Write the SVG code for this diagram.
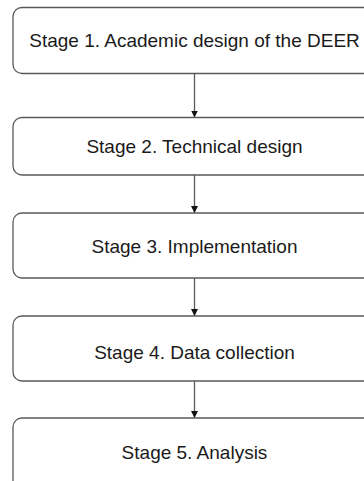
<svg xmlns="http://www.w3.org/2000/svg" width="364" height="481" viewBox="0 0 364 481">
<style>
.box{fill:#fff;stroke:#595959;stroke-width:1.3}
.lbl{font-family:"Liberation Sans",Arial,sans-serif;font-size:19px;fill:#1a1a1a;text-anchor:middle}
.conn{stroke:#595959;stroke-width:1.3;fill:none}
</style>
<defs>
<marker id="ah" viewBox="0 0 10 10" refX="10" refY="5" markerWidth="7" markerHeight="7" markerUnits="userSpaceOnUse" orient="auto">
<path d="M0,0 L10,5 L0,10 Z" fill="#111"/>
</marker>
</defs>
<rect width="364" height="481" fill="#fff"/>
<g id="connectors">
<line class="conn" x1="194.5" y1="73.5" x2="194.5" y2="117.5" marker-end="url(#ah)"/>
<line class="conn" x1="194.5" y1="175" x2="194.5" y2="213" marker-end="url(#ah)"/>
<line class="conn" x1="194.5" y1="278" x2="194.5" y2="316" marker-end="url(#ah)"/>
<line class="conn" x1="194.5" y1="381" x2="194.5" y2="418" marker-end="url(#ah)"/>
</g>
<g id="stage1"><rect class="box" x="13" y="7.5" width="363" height="66" rx="9"/><text class="lbl" x="194.5" y="47">Stage 1. Academic design of the DEER</text></g>
<g id="stage2"><rect class="box" x="13" y="117.5" width="363" height="57.5" rx="9"/><text class="lbl" x="194.5" y="153">Stage 2. Technical design</text></g>
<g id="stage3"><rect class="box" x="13" y="213" width="363" height="65" rx="9"/><text class="lbl" x="194.5" y="253">Stage 3. Implementation</text></g>
<g id="stage4"><rect class="box" x="13" y="316" width="363" height="65" rx="9"/><text class="lbl" x="194.5" y="359">Stage 4. Data collection</text></g>
<g id="stage5"><rect class="box" x="13" y="418" width="363" height="75" rx="9"/><text class="lbl" x="194.5" y="459">Stage 5. Analysis</text></g>
</svg>
